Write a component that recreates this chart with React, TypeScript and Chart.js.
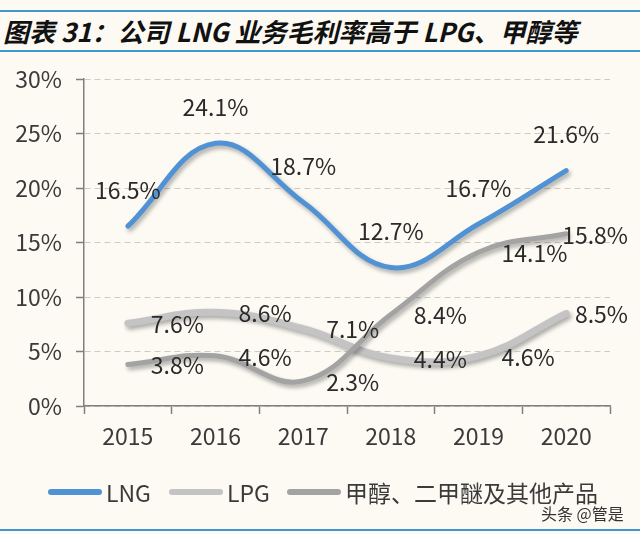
import React, { useEffect, useRef } from "react";
import { Chart, registerables } from "chart.js";

Chart.register(...registerables);

const years = ["2015", "2016", "2017", "2018", "2019", "2020"];
const lngMargin = [16.5, 24.1, 18.7, 12.7, 16.7, 21.6];
const lpgMargin = [7.6, 8.6, 7.1, 4.4, 4.6, 8.5];
const methanolMargin = [3.8, 4.6, 2.3, 8.4, 14.1, 15.8];
const seriesNames = ["LNG", "LPG", "甲醇、二甲醚及其他产品"];
const yTickValues = [0, 5, 10, 15, 20, 25, 30];

const titleText = "图表 31：公司 LNG 业务毛利率高于 LPG、甲醇等";
const watermarkText = "头条 @管是";

const COLORS = ["#5092d4", "#c4c4c4", "#a3a3a3"];
const LINE_WIDTHS = [5, 7, 5];
const FONT = '"Noto Sans CJK SC", "Noto Sans", sans-serif';
const BG = "#fcfaf3";
const RULE = "#3f97d3";
const TEXT = "#3a3a3a";

const shadowPlugin = {
  id: "lineShadow",
  beforeDatasetDraw(chart: any) {
    const ctx = chart.ctx;
    ctx.save();
    ctx.shadowColor = "rgba(0,0,0,0.32)";
    ctx.shadowBlur = 4;
    ctx.shadowOffsetX = 2;
    ctx.shadowOffsetY = 3;
  },
  afterDatasetDraw(chart: any) {
    chart.ctx.restore();
  },
};

const labelPlugin = {
  id: "valueLabels",
  afterDatasetsDraw(chart: any) {
    const ctx = chart.ctx;
    ctx.save();
    ctx.font = `23px ${FONT}`;
    ctx.fillStyle = "#2a2a2a";
    ctx.textBaseline = "middle";
    chart.data.datasets.forEach((ds: any, di: number) => {
      const meta = chart.getDatasetMeta(di);
      meta.data.forEach((pt: any, i: number) => {
        const text = Number(ds.data[i]).toFixed(1) + "%";
        if (di === 0) {
          ctx.textAlign = "center";
          ctx.fillText(text, pt.x, pt.y - 36);
        } else {
          const w = ctx.measureText(text).width;
          let x = pt.x + 23;
          if (x + w > chart.width - 12) x = chart.width - 12 - w;
          ctx.textAlign = "left";
          ctx.fillText(text, x, pt.y + 1);
        }
      });
    });
    ctx.restore();
  },
};

export default function App() {
  const canvasRef = useRef<HTMLCanvasElement | null>(null);

  useEffect(() => {
    if (!canvasRef.current) return;
    const seriesData = [lngMargin, lpgMargin, methanolMargin];
    const orders = [0, 1, 0];
    const chart = new Chart(canvasRef.current, {
      type: "line",
      data: {
        labels: years,
        datasets: seriesData.map((d, i) => ({
          label: seriesNames[i],
          data: d,
          borderColor: COLORS[i],
          backgroundColor: COLORS[i],
          borderWidth: LINE_WIDTHS[i],
          borderCapStyle: "round",
          borderJoinStyle: "round",
          tension: 0.4,
          pointRadius: 0,
          pointHoverRadius: 0,
          fill: false,
          order: orders[i],
        })),
      },
      options: {
        animation: false,
        responsive: false,
        maintainAspectRatio: false,
        events: [],
        layout: { padding: { top: 79, right: 30, bottom: 78, left: 0 } },
        plugins: {
          legend: { display: false },
          title: { display: false },
          tooltip: { enabled: false },
        },
        scales: {
          x: {
            type: "category",
            offset: true,
            afterFit(scale: any) {
              scale.height = 50;
            },
            grid: {
              offset: true,
              drawOnChartArea: false,
              drawTicks: true,
              tickLength: 8,
              tickColor: "#7f7f7f",
              tickWidth: 1.5,
            },
            border: { display: true, color: "#7f7f7f", width: 1.5 },
            ticks: {
              color: TEXT,
              font: { family: FONT, size: 23 },
              padding: 8,
              maxRotation: 0,
              autoSkip: false,
            },
          },
          y: {
            min: 0,
            max: 30,
            afterFit(scale: any) {
              scale.width = 84;
            },
            afterBuildTicks(scale: any) {
              scale.ticks = yTickValues.map((v) => ({ value: v }));
            },
            grid: {
              color: "#cfcbc2",
              lineWidth: 1,
              drawTicks: true,
              tickLength: 8,
              tickColor: "#7f7f7f",
              tickWidth: 1.5,
              tickBorderDash: [],
            },
            border: { display: true, color: "#7f7f7f", width: 1.5, dash: [6, 4] },
            ticks: {
              color: TEXT,
              font: { family: FONT, size: 23 },
              padding: 14,
              callback: (v: any) => v + "%",
            },
          },
        },
      },
      plugins: [shadowPlugin, labelPlugin],
    } as any);
    return () => chart.destroy();
  }, []);

  const legendLeft = [48, 169, 287];

  return (
    <div
      style={{
        position: "fixed",
        left: 0,
        top: 0,
        width: 640,
        height: 534,
        background: BG,
        overflow: "hidden",
        fontFamily: FONT,
      }}
    >
      <div style={{ position: "absolute", left: 0, top: 10, width: 640, height: 2, background: RULE }} />
      <div
        style={{
          position: "absolute",
          left: 3,
          top: 16,
          lineHeight: "30px",
          fontSize: 26,
          fontWeight: 700,
          fontStyle: "italic",
          color: "#111",
          whiteSpace: "nowrap",
        }}
      >
        {titleText}
      </div>
      <div style={{ position: "absolute", left: 0, top: 50, width: 640, height: 2, background: RULE }} />
      <canvas
        ref={canvasRef}
        width={640}
        height={534}
        style={{ position: "absolute", left: 0, top: 0, width: 640, height: 534 }}
      />
      {seriesNames.map((name, i) => (
        <div
          key={name}
          style={{
            position: "absolute",
            left: legendLeft[i],
            top: 477,
            height: 30,
            display: "flex",
            alignItems: "center",
            whiteSpace: "nowrap",
          }}
        >
          <span
            style={{
              display: "inline-block",
              width: 54,
              height: 6,
              borderRadius: 3,
              background: COLORS[i],
              marginRight: 4,
            }}
          />
          <span style={{ fontSize: 23, color: TEXT, lineHeight: "30px" }}>{name}</span>
        </div>
      ))}
      <div
        style={{
          position: "absolute",
          left: 541,
          top: 502,
          fontSize: 16,
          lineHeight: "22px",
          color: "#333",
          whiteSpace: "nowrap",
        }}
      >
        {watermarkText}
      </div>
      <div style={{ position: "absolute", left: 0, top: 529, width: 640, height: 2, background: RULE }} />
    </div>
  );
}
